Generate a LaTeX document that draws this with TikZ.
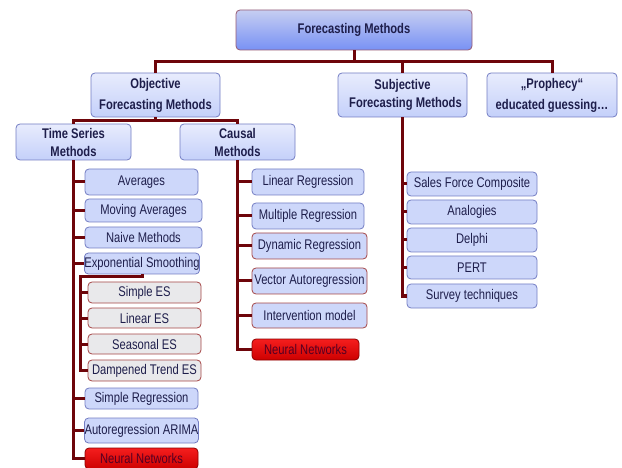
\documentclass[tikz,border=0pt]{standalone}
\usepackage{fontspec}
\setmainfont{Liberation Sans}
\newfontfamily\nfont[FakeStretch=0.8]{Liberation Sans}
\definecolor{conn}{RGB}{110,5,10}
\definecolor{txt}{RGB}{30,30,75}
\definecolor{leaffill}{RGB}{205,215,250}
\definecolor{leafdraw}{RGB}{115,125,195}
\definecolor{hdrtop}{RGB}{232,236,253}
\definecolor{hdrbot}{RGB}{196,208,250}
\definecolor{roottop}{RGB}{198,206,242}
\definecolor{rootbot}{RGB}{120,145,244}
\definecolor{rootdraw}{RGB}{150,90,115}
\definecolor{esfill}{RGB}{233,233,235}
\definecolor{esdraw}{RGB}{165,70,70}
\definecolor{redtop}{RGB}{245,30,30}
\definecolor{redbot}{RGB}{205,0,0}
\definecolor{reddraw}{RGB}{140,0,0}
\definecolor{redtxt}{RGB}{85,0,35}
\tikzset{
  box/.style={rounded corners=4pt, draw, inner sep=0pt, align=center, text=txt, line width=0.8pt},
  leaf/.style={box, fill=leaffill, draw=leafdraw, font=\fontsize{14}{16}\nfont},
  leafr/.style={leaf, draw=esdraw},
  esbox/.style={box, fill=esfill, draw=esdraw, font=\fontsize{14}{16}\nfont},
  redbox/.style={box, top color=redtop, bottom color=redbot, draw=reddraw, text=redtxt, font=\fontsize{14}{16}\nfont},
  hdr/.style={box, top color=hdrtop, bottom color=hdrbot, draw=leafdraw, font=\fontsize{14}{18}\nfont\bfseries},
  rootbox/.style={box, top color=roottop, bottom color=rootbot, draw=rootdraw, font=\fontsize{14}{16}\nfont\bfseries},
  link/.style={draw=conn, line width=3pt},
}
\begin{document}
\begin{tikzpicture}[x=1pt,y=-1pt]
\useasboundingbox (0,0) rectangle (622,468);
% top levels
\node[rootbox, minimum width=236pt, minimum height=40pt] (root) at (354,30) {Forecasting Methods};
\node[hdr, minimum width=129pt, minimum height=44pt, font=\fontsize{14}{21}\nfont\bfseries] (obj) at (155.5,95) {Objective\\Forecasting Methods};
\node[hdr, minimum width=129pt, minimum height=44pt] (subj) at (402.5,95) {Subjective\\\hspace*{6pt}Forecasting Methods};
\node[hdr, minimum width=130pt, minimum height=44pt, font=\fontsize{14}{21}\nfont\bfseries] (proph) at (552,95) {„Prophecy“\\educated guessing\dots};
\node[hdr, minimum width=115pt, minimum height=36pt] (ts) at (73.5,142) {Time Series\\Methods};
\node[hdr, minimum width=115pt, minimum height=36pt] (cm) at (237.5,142) {Causal\\Methods};
% time series leaves
\node[leaf, minimum width=113pt, minimum height=26pt] (avg) at (141.5,182) {Averages};
\node[leaf, minimum width=117pt, minimum height=23pt] (mavg) at (143.5,210.5) {Moving Averages};
\node[leaf, minimum width=117pt, minimum height=21pt] (naive) at (143.5,237.5) {Naive Methods};
\node[leaf, minimum width=114pt, minimum height=21pt] (exps) at (142,263.5) {Exponential Smoothing};
\node[esbox, minimum width=113pt, minimum height=21pt] (ses) at (144.5,292.5) {Simple ES};
\node[esbox, minimum width=113pt, minimum height=20pt] (les) at (144.5,318) {Linear ES};
\node[esbox, minimum width=113pt, minimum height=20pt] (sees) at (144.5,344) {Seasonal ES};
\node[esbox, minimum width=113pt, minimum height=21pt] (dtes) at (144.5,370.5) {Dampened Trend ES};
\node[leaf, minimum width=113pt, minimum height=21pt] (sreg) at (141.5,398.5) {Simple Regression};
\node[leaf, minimum width=113pt, minimum height=25pt] (arima) at (141.5,430.5) {Autoregression ARIMA};
\node[redbox, minimum width=113pt, minimum height=21pt] (nn1) at (141.5,458.5) {Neural Networks};
% causal leaves
\node[leaf, minimum width=112pt, minimum height=26pt] (lreg) at (308,182) {Linear Regression};
\node[leaf, minimum width=112pt, minimum height=26pt] (mreg) at (308,216) {Multiple Regression};
\node[leafr, minimum width=115pt, minimum height=26pt] (dreg) at (309.5,246) {Dynamic Regression};
\node[leafr, minimum width=115pt, minimum height=26pt] (var) at (309.5,281) {Vector Autoregression};
\node[leafr, minimum width=115pt, minimum height=25pt] (imod) at (309.5,315.5) {Intervention model};
\node[redbox, minimum width=107pt, minimum height=21pt] (nn2) at (305.5,349.5) {Neural Networks};
% subjective leaves
\node[leaf, minimum width=130pt, minimum height=24pt] (sfc) at (472,184) {Sales Force Composite};
\node[leaf, minimum width=130pt, minimum height=24pt] (anal) at (472,212) {Analogies};
\node[leaf, minimum width=130pt, minimum height=24pt] (delphi) at (472,240) {Delphi};
\node[leaf, minimum width=130pt, minimum height=23pt] (pert) at (472,267.5) {PERT};
\node[leaf, minimum width=130pt, minimum height=24pt] (survey) at (472,296) {Survey techniques};
% connectors: top
\path (root.south) ++(0,11) coordinate (rb);
\draw[link] (root.south) -- (rb);
\draw[link] (obj.north) |- (rb) -| (proph.north);
\draw[link] (subj.north) -- (subj.north |- rb);
\path (obj.south) ++(0,3) coordinate (ob);
\draw[link] (obj.south) -- (ob);
\draw[link] (ts.north) |- (ob) -| (cm.north);
% time series
\draw[link] (ts.south) -- (ts.south |- nn1.west) -- (nn1.west);
\foreach \n in {avg,mavg,naive,exps,sreg,arima}
  \draw[link] (ts.south |- \n.west) -- (\n.west);
\coordinate (esx) at (80,277);
\draw[link] (exps.south) |- (esx) -- (esx |- dtes.west) -- (dtes.west);
\foreach \n in {ses,les,sees}
  \draw[link] (esx |- \n.west) -- (\n.west);
% causal
\draw[link] (cm.south) -- (cm.south |- nn2.west) -- (nn2.west);
\foreach \n in {lreg,mreg,dreg,var,imod}
  \draw[link] (cm.south |- \n.west) -- (\n.west);
% subjective
\draw[link] (subj.south) -- (subj.south |- survey.west) -- (survey.west);
\foreach \n in {sfc,anal,delphi,pert}
  \draw[link] (subj.south |- \n.west) -- (\n.west);
\end{tikzpicture}
\end{document}
